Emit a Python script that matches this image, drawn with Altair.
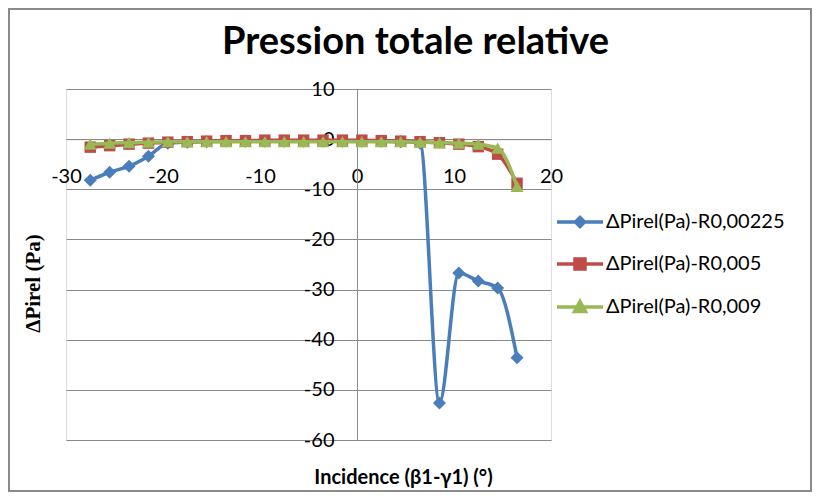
import altair as alt
import pandas as pd

# ---- data ----
incidence = [-27.5, -25.5, -23.5, -21.5, -19.5, -17.5, -15.5, -13.5, -11.5, -9.5,
             -7.5, -5.5, -3.5, -1.5, 0.5, 2.5, 4.5, 6.5, 8.5, 10.5, 12.5, 14.5, 16.5]
r_00225 = [-8.2, -6.6, -5.4, -3.4, -0.8, -0.6, -0.5, -0.4, -0.4, -0.4, -0.4, -0.4,
           -0.4, -0.4, -0.4, -0.4, -0.5, -0.8, -52.6, -26.7, -28.3, -29.7, -43.6]
r_005 = [-1.6, -1.3, -1.0, -0.8, -0.6, -0.5, -0.4, -0.3, -0.3, -0.2, -0.2, -0.2,
         -0.2, -0.2, -0.2, -0.3, -0.4, -0.5, -0.7, -1.0, -1.5, -3.0, -8.8]
r_009 = [-1.0, -0.8, -0.7, -0.6, -0.5, -0.5, -0.5, -0.5, -0.5, -0.5, -0.5, -0.5,
         -0.5, -0.5, -0.5, -0.5, -0.5, -0.6, -0.7, -0.8, -1.0, -1.8, -9.4]
series_names = ["ΔPirel(Pa)-R0,00225", "ΔPirel(Pa)-R0,005", "ΔPirel(Pa)-R0,009"]
colors = ["#4A7EBB", "#BE4B48", "#98B954"]
marker_shapes = ["diamond", "square", "triangle-up"]
marker_sizes = [170, 130, 170]
x_ticks = [-30, -20, -10, 0, 10, 20]
y_ticks = [10, 0, -10, -20, -30, -40, -50, -60]

rows = []
for name, vals in zip(series_names, [r_00225, r_005, r_009]):
    for xv, yv in zip(incidence, vals):
        rows.append({"x": xv, "v": yv, "s": name})
df = pd.DataFrame(rows)

# legend symbols: line with marker
legend_paths = [
    "M-2.3,0L2.3,0M0,-0.45L0.45,0L0,0.45L-0.45,0Z",
    "M-2.3,0L2.3,0M-0.5,-0.5L0.5,-0.5L0.5,0.5L-0.5,0.5Z",
    "M-2.3,0L2.3,0M0,-0.55L0.55,0.45L-0.55,0.45Z",
]

W, H = 485, 351
FONT = "Lato"
GRID = "#8a8a8a"

xscale = alt.Scale(domain=[-30, 20], nice=False, zero=False)
yscale = alt.Scale(domain=[-60, 10], nice=False, zero=False)

x_axis = alt.Axis(values=x_ticks, grid=False, ticks=False, domain=True,
                  domainColor=GRID, domainWidth=1, offset=-H * 60 / 70,
                  labelFont=FONT, labelFontSize=20, labelColor="black",
                  labelExpr="'' + datum.value",
                  labelPadding=27, labelFlush=False, labelOverlap=False,
                  title="Incidence (β1-γ1) (°)", titleFont=FONT, titleFontSize=20,
                  titleFontWeight="bold", titleColor="black",
                  titleX=337, titleY=344, titleAlign="center",
                  titleBaseline="alphabetic")
y_axis = alt.Axis(values=y_ticks, grid=True, gridColor=GRID, gridWidth=1,
                  ticks=False, domain=True, domainColor=GRID, domainWidth=1,
                  offset=-W * 30 / 50, labelFont=FONT, labelFontSize=20,
                  labelColor="black", labelPadding=23, labelFlush=False,
                  labelExpr="'' + datum.value",
                  labelOverlap=False,
                  title="ΔPirel  (Pa)", titleFont="Liberation Serif",
                  titleFontSize=21, titleFontWeight="bold", titleColor="black",
                  titleX=-324, titleY=194, titleAngle=270, titleAlign="center",
                  titleBaseline="middle")

base = alt.Chart(df)
layers = []
for name, col, shp, sz in zip(series_names, colors, marker_shapes, marker_sizes):
    sub = base.transform_filter(alt.datum.s == name)
    line = sub.mark_line(color=col, strokeWidth=3.5, interpolate="monotone").encode(
        x=alt.X("x:Q", scale=xscale, axis=x_axis),
        y=alt.Y("v:Q", scale=yscale, axis=y_axis),
    )
    pts = sub.mark_point(shape=shp, filled=True, color=col, size=sz, opacity=1).encode(
        x=alt.X("x:Q", scale=xscale, axis=x_axis),
        y=alt.Y("v:Q", scale=yscale, axis=y_axis),
    )
    layers += [line, pts]

leg = alt.Legend(title=None, orient="none", legendX=502, legendY=121,
                 symbolSize=400, symbolStrokeWidth=3.5, symbolOpacity=1,
                 labelFont=FONT, labelFontSize=20, labelColor="black",
                 labelOffset=14, labelLimit=400, rowPadding=18, padding=0)
legend_layer = base.mark_point(filled=True, opacity=0).encode(
    x=alt.X("x:Q", scale=xscale, axis=x_axis),
    y=alt.Y("v:Q", scale=yscale, axis=y_axis),
    color=alt.Color("s:N", scale=alt.Scale(domain=series_names, range=colors), legend=leg),
    stroke=alt.Stroke("s:N", scale=alt.Scale(domain=series_names, range=colors), legend=leg),
    shape=alt.Shape("s:N", scale=alt.Scale(domain=series_names, range=legend_paths), legend=leg),
)

border = alt.Chart(pd.DataFrame({"k": [0]})).mark_rect(
    fill="transparent", stroke="#8a8a8a", strokeWidth=2
).encode(x=alt.value(-57), x2=alt.value(W + 260), y=alt.value(-80), y2=alt.value(H + 51))

chart = alt.layer(border, legend_layer, *layers).properties(
    width=W, height=H,
    title=alt.TitleParams("Pression totale relative", font=FONT, fontSize=38,
                          fontWeight="bold", color="black", anchor="middle",
                          dx=107, dy=84, offset=0, baseline="alphabetic"),
    autosize=alt.AutoSizeParams(type="none"),
    padding={"left": 58, "top": 81, "right": 264, "bottom": 52},
).configure_view(stroke=None).configure(background="white")

chart.save("out.html", embed_options={"renderer": "svg", "actions": False})
